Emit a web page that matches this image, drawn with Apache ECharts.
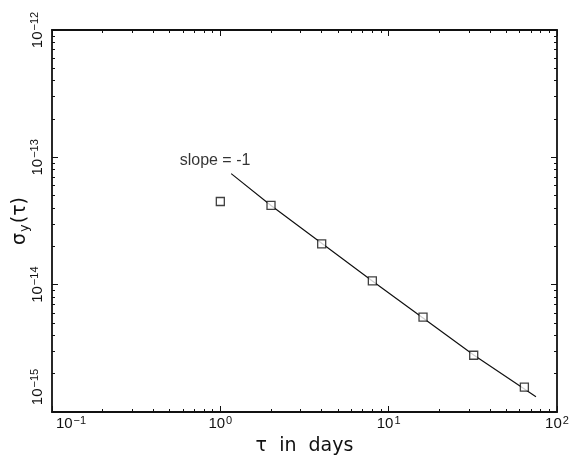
<!DOCTYPE html>
<html>
<head>
<meta charset="utf-8">
<script src="https://cdn.jsdelivr.net/npm/echarts@6/dist/echarts.min.js"></script>
<style>
  html, body { margin: 0; padding: 0; background: #fff; }
  #chart { width: 573px; height: 460px; }
</style>
</head>
<body>
<div id="chart"></div>
<script>
// Averaging time (days) and measured Allan deviation
const tauDays = [1, 2, 4, 8, 16, 32, 64];
const sigmaY = [4.5e-14, 4.19e-14, 2.09e-14, 1.07e-14, 5.57e-15, 2.79e-15, 1.57e-15];

// Reference slope -1 line
const fitTau = [1.16, 2, 8, 32, 75];
const fitSigma = [7.45e-14, 4.19e-14, 1.07e-14, 2.8e-15, 1.32e-15];

// Decade tick labels
const xTickLabels = [0.1, 1, 10, 100];
const yTickLabels = [1e-15, 1e-14, 1e-13, 1e-12];

// Annotation text anchored in data space
const slopeNote = { text: 'slope = -1', tau: 0.93, sigma: 9.5e-14 };

// minor ticks at 2..9 within each decade
function minorTicks(decades) {
  const out = [];
  for (let i = 0; i < decades.length - 1; i++) {
    for (let m = 2; m <= 9; m++) out.push(decades[i] * m);
  }
  return out;
}
const xMinor = minorTicks(xTickLabels);
const yMinor = minorTicks(yTickLabels);

const FONT = 'Liberation Sans';
const ink = '#111';

function expOf(v) { return Math.round(Math.log10(v)); }
function expText(e) { return e < 0 ? '\u2212' + Math.abs(e) : String(e); }

const labelRich = {
  b: { fontFamily: FONT, fontSize: 15, color: ink },
  bx: { fontFamily: FONT, fontSize: 15, color: ink, padding: [0, 0, 0, 38] },
  by: { fontFamily: FONT, fontSize: 15, color: ink, padding: [0, 0, 0, 50] },
  s: { fontFamily: FONT, fontSize: 11, color: ink, verticalAlign: 'top', padding: [0, 0, 6, 1] }
};

const lineStyle = { color: ink, width: 1.8 };

function xAxisDef(pos, vals, len, withLine, withLabels) {
  return {
    type: 'log', logBase: 10, min: 0.1, max: 100, position: pos, gridIndex: 0,
    axisLine: { show: withLine, lineStyle: lineStyle },
    axisTick: { show: true, inside: true, length: len, customValues: vals, lineStyle: { color: ink, width: 1 } },
    axisLabel: withLabels ? {
      show: true, margin: 3, customValues: xTickLabels, hideOverlap: false,
      formatter: function (v) {
        const e = expOf(v);
        return '{' + (e === -1 ? 'bx' : 'b') + '|10}{s|' + expText(e) + '}';
      },
      rich: labelRich
    } : { show: false },
    splitLine: { show: false },
    name: withLabels ? '\u03C4  in  days' : '',
    nameLocation: 'middle', nameGap: 25, nameMoveOverlap: false,
    nameTextStyle: { fontFamily: 'DejaVu Sans', fontSize: 19, color: ink }
  };
}

function yAxisDef(pos, vals, len, withLine, withLabels) {
  return {
    type: 'log', logBase: 10, min: 1e-15, max: 1e-12, position: pos, gridIndex: 0,
    axisLine: { show: withLine, lineStyle: lineStyle },
    axisTick: { show: true, inside: true, length: len, customValues: vals, lineStyle: { color: ink, width: 1 } },
    axisLabel: withLabels ? {
      show: true, margin: 6, rotate: 90, customValues: yTickLabels, hideOverlap: false,
      formatter: function (v) {
        const e = expOf(v);
        return '{' + (e === -15 ? 'by' : 'b') + '|10}{s|' + expText(e) + '}';
      },
      rich: labelRich
    } : { show: false },
    splitLine: { show: false },
    name: withLabels ? '{g|\u03C3}{sub|y}{g|(\u03C4)}' : '',
    nameLocation: 'middle', nameGap: 21, nameRotate: 90, nameMoveOverlap: false,
    nameTextStyle: {
      rich: {
        g: { fontFamily: 'DejaVu Sans', fontSize: 19, color: ink },
        sub: { fontFamily: 'DejaVu Sans', fontSize: 13, color: ink, padding: [9, 1, 0, 1] }
      }
    }
  };
}

const chart = echarts.init(document.getElementById('chart'), null, { renderer: 'canvas' });

chart.setOption({
  backgroundColor: '#fff',
  animation: false,
  grid: { left: 52, right: 16, top: 30, bottom: 48, outerBoundsMode: 'none', containLabel: false },
  xAxis: [
    xAxisDef('bottom', xTickLabels, 6, true, true),
    xAxisDef('bottom', xMinor, 3, false, false),
    xAxisDef('top', xTickLabels, 6, true, false),
    xAxisDef('top', xMinor, 3, false, false)
  ],
  yAxis: [
    yAxisDef('left', yTickLabels, 6, true, true),
    yAxisDef('left', yMinor, 3, false, false),
    yAxisDef('right', yTickLabels, 6, true, false),
    yAxisDef('right', yMinor, 3, false, false)
  ],
  series: [
    {
      type: 'line',
      xAxisIndex: 0, yAxisIndex: 0,
      data: fitTau.map((t, i) => [t, fitSigma[i]]),
      showSymbol: false, symbol: 'none',
      lineStyle: { color: ink, width: 1.2 },
      z: 2
    },
    {
      type: 'scatter',
      xAxisIndex: 0, yAxisIndex: 0,
      data: tauDays.map((t, i) => [t, sigmaY[i]]),
      symbol: 'rect', symbolSize: 8,
      itemStyle: { color: '#fff', borderColor: ink, borderWidth: 1.3 },
      z: 3
    },
    {
      type: 'scatter',
      xAxisIndex: 0, yAxisIndex: 0,
      data: [[slopeNote.tau, slopeNote.sigma]],
      symbolSize: 0,
      label: {
        show: true, position: 'inside',
        formatter: slopeNote.text,
        fontFamily: FONT, fontSize: 16, color: '#000'
      },
      silent: true
    }
  ]
});
</script>
</body>
</html>
